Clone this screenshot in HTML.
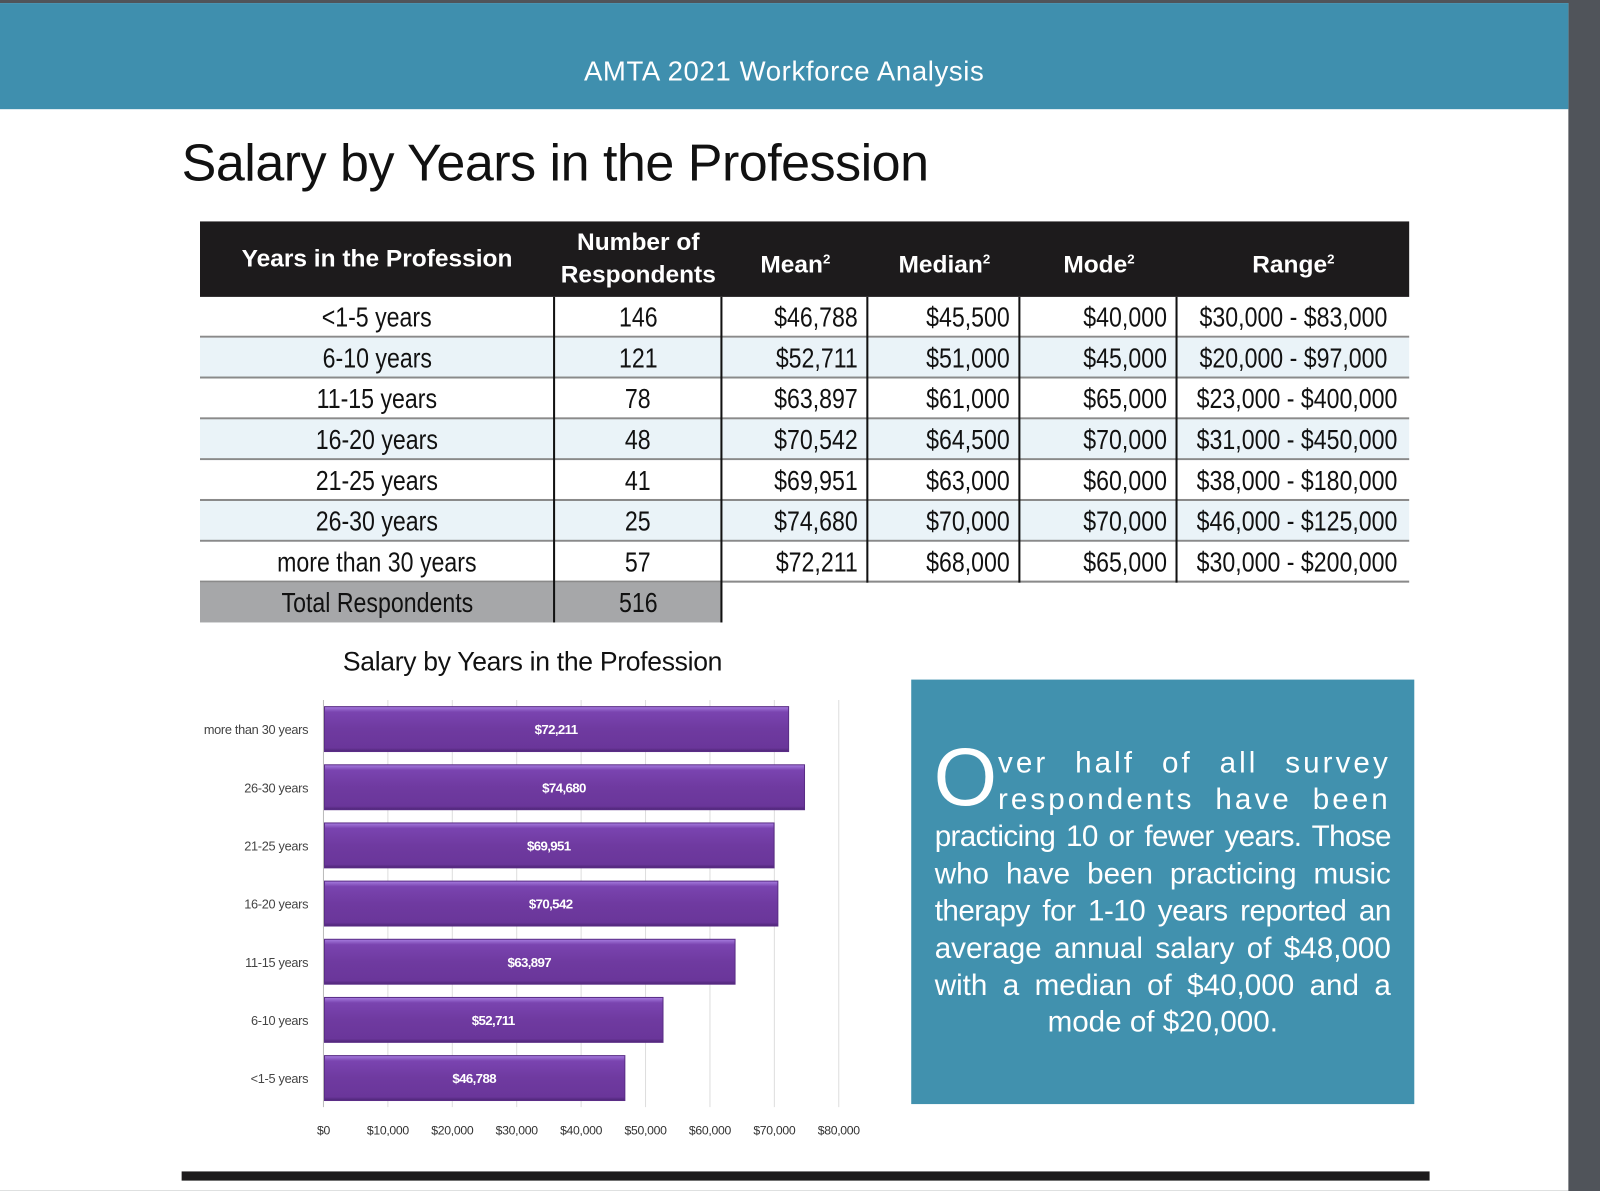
<!DOCTYPE html>
<html><head><meta charset="utf-8">
<style>
html,body{margin:0;padding:0;background:#50545a;width:1600px;height:1191px;overflow:hidden}
#wrap{position:absolute;left:0;top:0;width:1568px;height:1167px;transform:scale(1.020408);transform-origin:0 0;background:#50545a;font-family:"Liberation Sans",sans-serif}
.abs{position:absolute}
#page{left:0;top:3px;width:1537px;height:1164px;background:#fff}
#hdr{left:0;top:3px;width:1537px;height:104px;background:#3f8fae;color:#fff;font-size:27px;text-align:center;line-height:134px;letter-spacing:0.6px}
#title{left:178px;top:130px;font-size:51px;color:#111;letter-spacing:-0.5px}
#tbl{left:196px;top:217px;width:1185px;height:393px}
.hd{position:absolute;top:0;height:74px;background:#1d1b1c}
.th{position:absolute;color:#fff;font-weight:bold;font-size:24px;text-align:center;line-height:32px;white-space:nowrap}
.row{position:absolute;left:0;height:38px;border-bottom:2px solid #8a8a8a}
.cell{position:absolute;top:0;height:40px;line-height:40px;font-size:27px;color:#111;white-space:nowrap}
.cell span{display:inline-block;transform:scaleX(0.84)}
.c{text-align:center}.c span{transform-origin:center}
.r{text-align:right}.r span{transform-origin:right}
.vl{position:absolute;width:2px;background:#111}
sup{font-size:13px}
#ctitle{left:336px;top:633px;font-size:26px;color:#111;letter-spacing:-0.3px}
#box{left:893px;top:666px;width:493px;height:416px;background:#4191ae;color:#fff}
.ln{position:absolute;left:23px;width:447px;font-size:29px;text-align:justify;text-align-last:justify;white-space:nowrap;line-height:36px}
#bar{left:178px;top:1148px;width:1223px;height:9px;background:#1d1b1c}
</style></head><body>
<div id="wrap">
<div class="abs" id="page"></div>
<div class="abs" id="hdr">AMTA 2021 Workforce Analysis</div>
<div class="abs" id="title">Salary by Years in the Profession</div>
<div class="abs" id="tbl"></div>
<div class="abs" id="ctitle">Salary by Years in the Profession</div>
<svg class="abs" id="chart" style="left:0;top:0" width="880" height="1167">
<defs><linearGradient id="g" x1="0" y1="0" x2="0" y2="1"><stop offset="0" stop-color="#a77de0"/><stop offset="0.12" stop-color="#7a44b0"/><stop offset="0.5" stop-color="#6f3aa0"/><stop offset="0.92" stop-color="#6a369a"/><stop offset="1" stop-color="#4d2575"/></linearGradient></defs>
</svg>
<div class="abs" id="box">
<div class="abs" style="left:22px;top:56px;font-size:80px;line-height:80px">O</div>
<div class="ln" style="left:85px;width:385px;top:64px;letter-spacing:3px">ver half of all survey</div>
<div class="ln" style="left:85px;width:385px;top:100px;letter-spacing:3px">respondents have been</div>
<div class="ln" style="top:136px;letter-spacing:-0.6px">practicing 10 or fewer years. Those</div>
<div class="ln" style="top:173px">who have been practicing music</div>
<div class="ln" style="top:209px;letter-spacing:-0.5px">therapy for 1-10 years reported an</div>
<div class="ln" style="top:246px">average annual salary of $48,000</div>
<div class="ln" style="top:282px">with a median of $40,000 and a</div>
<div class="ln" style="top:318px;text-align:center;text-align-last:center">mode of $20,000.</div>
</div>
<div class="abs" id="bar"></div>
</div>
<script>
const rowLabels=["<1-5 years","6-10 years","11-15 years","16-20 years","21-25 years","26-30 years","more than 30 years"];
const respondents=["146","121","78","48","41","25","57"];
const means=["$46,788","$52,711","$63,897","$70,542","$69,951","$74,680","$72,211"];
const medians=["$45,500","$51,000","$61,000","$64,500","$63,000","$70,000","$68,000"];
const modes=["$40,000","$45,000","$65,000","$70,000","$60,000","$70,000","$65,000"];
const ranges=["$30,000 - $83,000","$20,000 - $97,000","$23,000 - $400,000","$31,000 - $450,000","$38,000 - $180,000","$46,000 - $125,000","$30,000 - $200,000"];
const tbl=document.getElementById('tbl');
const cols=[0,347,512,655,804,958,1185];
function div(cls,style,html){const d=document.createElement('div');d.className=cls;d.style.cssText=style;if(html!=null)d.innerHTML=html;tbl.appendChild(d);return d;}
const hd=div('hd','left:0;width:1185px');


const heads=["Years in the Profession","Number of<br>Respondents","Mean<sup>2</sup>","Median<sup>2</sup>","Mode<sup>2</sup>","Range<sup>2</sup>"];
heads.forEach((h,i)=>{
 const t=div('th','left:'+cols[i]+'px;width:'+(cols[i+1]-cols[i])+'px;top:'+(i==1?5:21)+'px',h);
 
 
});
for(let r=0;r<7;r++){
 const y=74+r*40;
 const row=div('row','top:'+y+'px;width:1185px;background:'+(r%2?'#eaf3f8':'#fff'));
 
 
 const vals=[rowLabels[r],respondents[r],means[r],medians[r],modes[r],ranges[r]];
 const al=['c','c','r','r','r','c'];
 vals.forEach((v,i)=>{
  const pad=al[i]=='r'?'padding-right:10px;box-sizing:border-box;':'';
  const c=div('cell '+al[i],pad+'top:'+y+'px;left:'+cols[i]+'px;width:'+(cols[i+1]-cols[i])+'px');
  const s=document.createElement('span');s.textContent=v;c.appendChild(s);
  
  
 });
}
const tot=div('row','top:354px;width:512px;background:#a6a7a9;border-bottom:none;height:39px');


[["Total Respondents",0],["516",1]].forEach(([v,i])=>{
 const c=div('cell c','top:354px;left:'+cols[i]+'px;width:'+(cols[i+1]-cols[i])+'px');
 const s=document.createElement('span');s.textContent=v;c.appendChild(s);
 
 
});
[[346,393],[510,393],[653,354],[802,354],[956,354]].forEach(([x,h])=>{
 const v=div('vl','left:'+x+'px;top:74px;height:'+(h-74)+'px');
 
 
});

const categories=["more than 30 years","26-30 years","21-25 years","16-20 years","11-15 years","6-10 years","<1-5 years"];
const meanValues=[72211,74680,69951,70542,63897,52711,46788];
const valueLabels=["$72,211","$74,680","$69,951","$70,542","$63,897","$52,711","$46,788"];
const tickValues=[0,10000,20000,30000,40000,50000,60000,70000,80000];
const tickLabels=["$0","$10,000","$20,000","$30,000","$40,000","$50,000","$60,000","$70,000","$80,000"];
const svg=document.getElementById('chart');
const NS='http://www.w3.org/2000/svg';
const X0=317,X1=822,XMAX=80000,YT=686,YB=1085;
function x(v){return X0+(X1-X0)*v/XMAX;}
const band=(YB-YT)/categories.length;
function yc(i){return YT+band*(i+0.5);}
function mk(t,a){const e=document.createElementNS(NS,t);for(const k in a)e.setAttribute(k,a[k]);svg.appendChild(e);return e;}
tickValues.forEach((v,i)=>{
 const l=mk('line',{x1:x(v),x2:x(v),y1:YT,y2:YB,stroke:i==0?'#bbb':'#ddd','stroke-width':1});
 
 
 const t=mk('text',{x:x(v),y:1112,'text-anchor':'middle','font-size':12,fill:'#333','font-family':'Liberation Sans, sans-serif','letter-spacing':'-0.3'});
 t.textContent=tickLabels[i];
 
 
});
categories.forEach((c,i)=>{
 const h=44,y=yc(i)-h/2;
 const r=mk('rect',{x:x(0)+1,y:y,width:x(meanValues[i])-x(0)-1,height:h,fill:'url(#g)',stroke:'#5a2d86','stroke-width':1});
 
 
 const t=mk('text',{x:(x(0)+x(meanValues[i]))/2,y:yc(i)+5,'text-anchor':'middle','font-size':13,'font-weight':'bold',fill:'#fff','font-family':'Liberation Sans, sans-serif','letter-spacing':'-0.6'});
 t.textContent=valueLabels[i];
 
 
 const cl=mk('text',{x:302,y:yc(i)+5,'text-anchor':'end','font-size':12.5,fill:'#444','font-family':'Liberation Sans, sans-serif','letter-spacing':'-0.3'});
 cl.textContent=c;
 
 
});
</script>
</body></html>
